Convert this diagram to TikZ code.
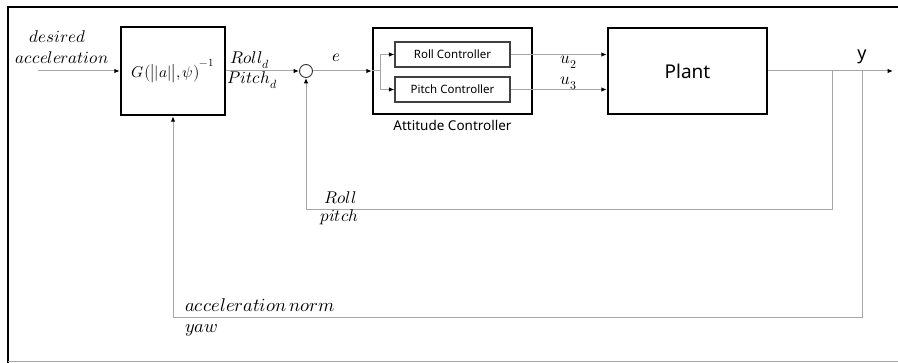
\documentclass[tikz,border=0pt]{standalone}
\usepackage{fontspec}
\usepackage{unicode-math}
\setmathfont{Latin Modern Math}
\newfontfamily\sansf{Noto Sans}
\usetikzlibrary{arrows.meta}
\definecolor{wirec}{HTML}{A6A6A6}
\begin{document}
\begin{tikzpicture}[x=1pt,y=-1pt,
  wire/.style={draw=wirec,line width=1pt},
  arr/.style={wire,-{Latex[length=5.5pt,width=4.5pt,color=black]}},
  bigbox/.style={draw=black,line width=2.4pt,fill=white,inner sep=0pt},
  smallbox/.style={draw=black!75,line width=1.1pt,fill=white,inner sep=0pt,
    minimum width=115pt,minimum height=25pt,font=\sansf\fontsize{11.5}{13}\selectfont},
  mlab/.style={inner sep=0pt,font=\fontsize{17}{20}\selectfont},
  slab/.style={inner sep=0pt,font=\sansf\fontsize{13.5}{16}\selectfont}
]
\useasboundingbox (0,0) rectangle (898,363);
% frame
\draw[line width=2.6pt] (898,7) -- (8,7) -- (8,363);
\draw[wire] (8,362) -- (898,362);

% blocks
\node[bigbox,minimum width=104pt,minimum height=88pt] (G) at (173,71)
  {\fontsize{15.5}{18}\selectfont $G\big(\big||a|\big|,\psi\big)^{-1}$};
\node[circle,draw=black!80,line width=0.9pt,minimum size=13pt,inner sep=0pt] (sum) at (306,71) {};
\node[bigbox,minimum width=159pt,minimum height=86pt] (AC) at (452.5,71) {};
\node[smallbox] (RC) at (452.5,54.5) {Roll Controller};
\node[smallbox] (PC) at (452.5,89.5) {Pitch Controller};
\node[bigbox,minimum width=159pt,minimum height=86pt,
  font=\sansf\fontsize{19}{22}\selectfont] (P) at (687.5,71) {Plant};

% coordinates
\coordinate (in) at (38,71);
\coordinate (br) at (380,71);
\coordinate (out) at (893,71);
\coordinate (t1) at (832,71);
\coordinate (t2) at (862,71);
\coordinate (c1) at (306,210);
\coordinate (c2) at (173,318);

% connectors
\draw[arr] (in) -- (G);
\draw[arr] (G) -- (sum);
\draw[arr] (sum) -- (AC);
\draw[wire] (AC.west) -- (br);
\draw[arr] (br) |- (RC.west);
\draw[arr] (br) |- (PC.west);
\draw[arr] (RC.east) -- (RC.east -| P.west);
\draw[arr] (PC.east) -- (PC.east -| P.west);
\draw[arr] (P) -- (out);
\draw[arr] (t1) |- (c1) -- (sum);
\draw[arr] (t2) |- (c2) -- (G);

% labels
\node[mlab,anchor=base] (l1) at (57.5,43) {$desired$};
\node[mlab,anchor=base] (l2) at (62,64) {$acceleration$};
\node[mlab,anchor=base west] (l3) at (230,64) {$Roll_d$};
\node[mlab,anchor=base west] (l4) at (227,84) {$Pitch_d$};
\node[mlab,anchor=base] (l5) at (336,62) {$e$};
\node[mlab,anchor=base] (l6) at (569,64) {$u_2$};
\node[mlab,anchor=base] (l7) at (569,85) {$u_3$};
\node[slab,anchor=base,font=\sansf\fontsize{18}{21}\selectfont] (l8) at (862,60) {y};
\node[slab,anchor=base] (l9) at (452.5,131) {Attitude Controller};
\node[mlab,anchor=base west] (l10) at (324,204) {$Roll$};
\node[mlab,anchor=base west] (l11) at (320,222) {$pitch$};
\node[mlab,anchor=base west,font=\fontsize{18.5}{22}\selectfont] (l12) at (185,312) {$acceleration\,norm$};
\node[mlab,anchor=base west,font=\fontsize{18.5}{22}\selectfont] (l13) at (185,333) {$yaw$};
\end{tikzpicture}
\end{document}
